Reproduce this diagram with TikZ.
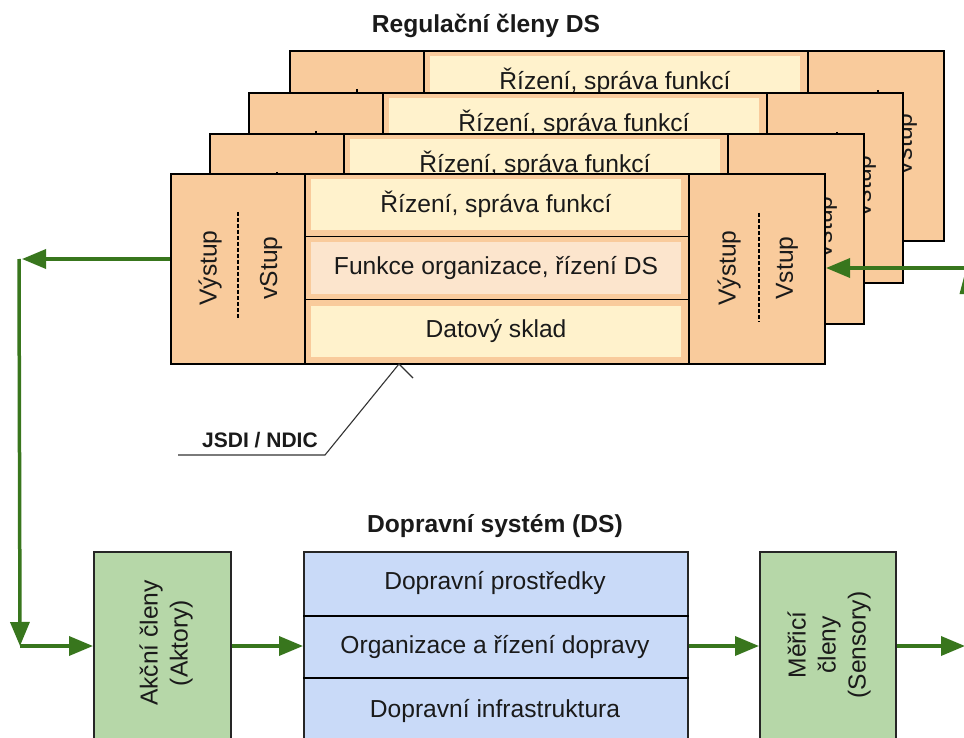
\documentclass[tikz,border=0pt]{standalone}
\usepackage{fontspec}
\setmainfont{Liberation Sans}
\usetikzlibrary{arrows.meta}
\definecolor{cOrange}{HTML}{F9CB9C}
\definecolor{cYellow}{HTML}{FFF2CC}
\definecolor{cPeach}{HTML}{FCE5CD}
\definecolor{cGreen}{HTML}{B6D7A8}
\definecolor{cBlue}{HTML}{C9DAF8}
\definecolor{cArrow}{HTML}{38761D}
\definecolor{cText}{HTML}{1A1A1A}
\newcommand\myfs{\fontsize{24.6}{30}\selectfont}
\tikzset{
  obox/.style={draw=black, line width=2pt, fill=cOrange, rectangle, inner sep=0pt, anchor=north west},
  ypanel/.style={fill=cYellow, minimum width=370pt, minimum height=51pt, inner sep=0pt, font=\myfs, text=cText},
  ppanel/.style={ypanel, fill=cPeach},
  divline/.style={line width=1.3pt, draw=black},
  rottext/.style={rotate=90, inner sep=0pt, font=\myfs, text=cText},
  dashsep/.style={draw=black, dash pattern=on 4pt off 2pt, line width=1.4pt},
  gbox/.style={draw=black!85, line width=1.7pt, fill=cGreen, rectangle, inner sep=0pt, anchor=north west},
  bbox/.style={draw=black!85, line width=1.7pt, fill=cBlue, rectangle, inner sep=0pt, anchor=north west},
  txt/.style={inner sep=0pt, font=\myfs, text=cText},
  ttl/.style={inner sep=0pt, font=\bfseries\myfs, text=cText, anchor=base},
  lead/.style={draw=black!80, line width=1.1pt},
  garrow/.style={draw=cArrow, line width=3.5pt, -{Triangle[length=24pt, width=19pt]}},
  gline/.style={draw=cArrow, line width=3.5pt}
}
\newcommand\regcard[3]{%
  \node[obox, minimum width=134pt, minimum height=190pt] (L#3) at (#1,#2) {};
  \node[obox, minimum width=384pt, minimum height=190pt] (M#3) at ({#1+134},#2) {};
  \node[obox, minimum width=136pt, minimum height=190pt] (R#3) at ({#1+518},#2) {};
  \node[ypanel] (MA#3) at ({#1+326},{#2+31.7}) {Řízení, správa funkcí};
  \node[ppanel] (MB#3) at ({#1+326},{#2+95}) {Funkce organizace, řízení DS};
  \node[ypanel] (MC#3) at ({#1+326},{#2+158.3}) {Datový sklad};
  \draw[divline] ({#1+134},{#2+63.3}) -- ({#1+518},{#2+63.3});
  \draw[divline] ({#1+134},{#2+126.7}) -- ({#1+518},{#2+126.7});
  \node[rottext] (LA#3) at ({#1+40},{#2+95}) {Výstup};
  \node[rottext] (LB#3) at ({#1+101},{#2+95}) {vStup};
  \draw[dashsep] ({#1+68},{#2+39}) -- ({#1+68},{#2+145});
  \node[rottext] (RA#3) at ({#1+559},{#2+95}) {Výstup};
  \node[rottext] (RB#3) at ({#1+617},{#2+95}) {Vstup};
  \draw[dashsep] ({#1+589},{#2+40}) -- ({#1+589},{#2+149});
}
\begin{document}
\begin{tikzpicture}[x=1pt,y=-1pt]
\useasboundingbox (0,0) rectangle (964,738);
\clip (0,0) rectangle (964,738);
\fill[white] (0,0) rectangle (964,738);

% title
\node[ttl] (t1) at (486,33) {Regulační členy DS};

% stacked cards, back to front
\regcard{289}{50}{d}
\regcard{248}{92}{c}
\regcard{209}{133}{b}
\regcard{170}{173}{a}

% JSDI label and leader
\node[inner sep=0pt, font=\bfseries\fontsize{21}{25}\selectfont, text=cText, anchor=base] (jsdi) at (260,447) {JSDI / NDIC};
\coordinate (jl) at (178,455);
\coordinate (jk) at (325,455);
\coordinate (jp) at (399,364);
\coordinate (jt) at (413,378);
\draw[lead] (jl) -- (jk) -- (jp) -- (jt);

% bottom system
\node[ttl] (t2) at (495,532) {Dopravní systém (DS)};
\node[gbox, minimum width=137pt, minimum height=194pt] (act) at (93,551) {};
\node[rottext, align=center] (actT) at (166,643) {Akční členy\\(Aktory)};
\node[bbox, minimum width=384pt, minimum height=194pt] (ds) at (303,551) {};
\draw[divline, line width=1.3pt] (ds.west |- 0,616) -- (ds.east |- 0,616);
\draw[divline, line width=1.3pt] (ds.west |- 0,678) -- (ds.east |- 0,678);
\node[txt] (ds1) at (495,583) {Dopravní prostředky};
\node[txt] (ds2) at (495,647) {Organizace a řízení dopravy};
\node[txt] (ds3) at (495,711) {Dopravní infrastruktura};
\node[gbox, minimum width=136pt, minimum height=194pt] (sen) at (759,551) {};
\node[rottext, align=center] (senT) at (829,645) {Měřicí\\členy\\(Sensory)};

% green connectors
\coordinate (outL) at (22,259);
\coordinate (cTop) at (19,259);
\coordinate (cBot) at (20,646);
\coordinate (inR) at (970,268);
\coordinate (outR) at (965,646);
\draw[garrow] (La.west |- outL) -- (outL);
\draw[garrow] (cTop) -- (cBot);
\draw[garrow] (cBot) -- (act.west |- cBot);
\draw[garrow] (act.east |- cBot) -- (ds.west |- cBot);
\draw[garrow] (ds.east |- cBot) -- (sen.west |- cBot);
\draw[garrow] (sen.east |- cBot) -- (outR);
\draw[garrow] (inR) -- (Ra.east |- inR);
\fill[cArrow] (959.5,294) -- (964,294) -- (964,277) -- cycle;
\end{tikzpicture}
\end{document}
